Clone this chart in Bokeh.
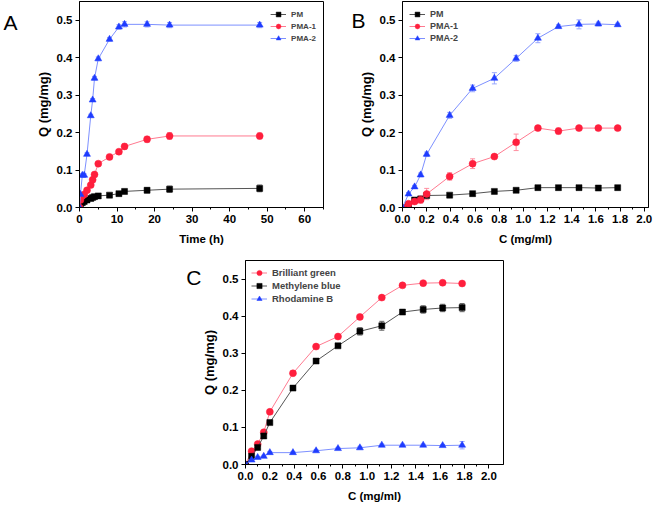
from bokeh.plotting import figure
from bokeh.models import (Range1d, FixedTicker, Legend, LegendItem, LinearAxis, Whisker,
                          ColumnDataSource, TeeHead, Spacer)
from bokeh.layouts import column, row
from bokeh.embed import file_html
from bokeh.resources import INLINE

# ---------------- data ----------------
# Panel A: adsorption vs time
time_h = [0, 0.25, 0.75, 1.25, 2, 3, 3.5, 4, 5, 8, 10.5, 12, 18, 24, 48]
A_pm = [0, 0.008, 0.013, 0.016, 0.020, 0.024, 0.027, 0.029, 0.031, 0.033, 0.037, 0.043, 0.046, 0.049, 0.051]
A_pm_err = [0, 0.002, 0.002, 0.002, 0.002, 0.002, 0.002, 0.002, 0.003, 0.004, 0.005, 0.006, 0.007, 0.008, 0.009]
A_pma1 = [0, 0.020, 0.031, 0.035, 0.046, 0.060, 0.074, 0.088, 0.117, 0.135, 0.149, 0.163, 0.182, 0.191, 0.191]
A_pma1_err = [0, 0.002, 0.002, 0.002, 0.002, 0.003, 0.003, 0.003, 0.004, 0.005, 0.006, 0.007, 0.008, 0.009, 0.008]
A_pma2 = [0, 0.035, 0.086, 0.086, 0.142, 0.245, 0.287, 0.345, 0.397, 0.449, 0.482, 0.489, 0.489, 0.487, 0.487]
A_pma2_err = [0, 0.003, 0.004, 0.004, 0.004, 0.004, 0.004, 0.005, 0.005, 0.005, 0.006, 0.007, 0.007, 0.007, 0.007]

# Panel B: adsorption vs concentration
conc = [0, 0.05, 0.1, 0.15, 0.2, 0.39, 0.58, 0.76, 0.94, 1.12, 1.29, 1.46, 1.62, 1.78]
B_pm = [0, 0.008, 0.020, 0.023, 0.032, 0.033, 0.037, 0.043, 0.046, 0.053, 0.053, 0.053, 0.052, 0.053]
B_pm_err = [0, 0.002, 0.003, 0.003, 0.003, 0.003, 0.003, 0.003, 0.003, 0.003, 0.003, 0.003, 0.003, 0.003]
B_pma1 = [0, 0.010, 0.016, 0.021, 0.036, 0.083, 0.117, 0.136, 0.174, 0.212, 0.204, 0.212, 0.212, 0.212]
B_pma1_err = [0, 0.003, 0.005, 0.010, 0.015, 0.010, 0.013, 0.005, 0.022, 0.005, 0.008, 0.004, 0.003, 0.004]
B_pma2 = [0, 0.036, 0.055, 0.087, 0.142, 0.246, 0.318, 0.345, 0.398, 0.452, 0.483, 0.489, 0.490, 0.488]
B_pma2_err = [0, 0.004, 0.004, 0.005, 0.006, 0.008, 0.009, 0.015, 0.008, 0.012, 0.005, 0.012, 0.005, 0.004]

# Panel C: different dyes
C_bg = [0, 0.036, 0.055, 0.087, 0.142, 0.246, 0.318, 0.345, 0.398, 0.450, 0.483, 0.489, 0.490, 0.488]
C_bg_err = [0, 0.003, 0.003, 0.003, 0.003, 0.003, 0.003, 0.003, 0.003, 0.003, 0.003, 0.003, 0.003, 0.003]
C_mb = [0, 0.022, 0.046, 0.077, 0.113, 0.206, 0.279, 0.320, 0.359, 0.374, 0.411, 0.418, 0.422, 0.423]
C_mb_err = [0, 0.003, 0.003, 0.004, 0.004, 0.004, 0.004, 0.005, 0.010, 0.012, 0.005, 0.010, 0.010, 0.011]
C_rb = [0, 0.012, 0.019, 0.022, 0.032, 0.032, 0.037, 0.043, 0.045, 0.052, 0.052, 0.052, 0.051, 0.052]
C_rb_err = [0, 0.003, 0.003, 0.003, 0.003, 0.003, 0.003, 0.003, 0.004, 0.003, 0.003, 0.003, 0.003, 0.010]

y_ticks = [0.0, 0.1, 0.2, 0.3, 0.4, 0.5]
A_x_ticks = [0, 10, 20, 30, 40, 50, 60]
BC_x_ticks = [0.0, 0.2, 0.4, 0.6, 0.8, 1.0, 1.2, 1.4, 1.6, 1.8, 2.0]
panel_letters = ["A", "B", "C"]

FONT = "Liberation Sans"
BLACK = ("#000000", "#555555", "#666666")
RED = ("#ff1f3d", "#ff7a90", "#ff8fa0")
BLUE = ("#1f3cff", "#7d90ff", "#9aa8ff")


def make_panel(width, height, borders, x_end, x_ticks, x_minor, x_fmt, x_title):
    bl, br, bt, bb = borders
    p = figure(width=width, height=height, output_backend="svg", toolbar_location=None,
               x_range=Range1d(0, x_end), y_range=Range1d(0, 0.55),
               min_border_left=bl, min_border_right=br, min_border_top=bt, min_border_bottom=bb)
    p.grid.visible = False
    p.outline_line_color = "#000000"
    p.outline_line_width = 1
    p.background_fill_color = "white"
    p.border_fill_color = "white"
    p.xaxis.ticker = FixedTicker(ticks=x_ticks, minor_ticks=x_minor)
    p.yaxis.ticker = FixedTicker(ticks=y_ticks, minor_ticks=[])
    p.xaxis.major_label_overrides = {t: x_fmt(t) for t in x_ticks}
    p.yaxis.major_label_overrides = {t: "%.1f" % t for t in y_ticks}
    for ax in (p.xaxis[0], p.yaxis[0]):
        ax.axis_line_color = "#000000"
        ax.major_tick_line_color = "#000000"
        ax.minor_tick_line_color = "#000000"
        ax.major_tick_in = 0
        ax.major_tick_out = 4
        ax.minor_tick_in = 0
        ax.minor_tick_out = 2
        ax.major_label_text_font = FONT
        ax.major_label_text_font_style = "bold"
        ax.major_label_text_font_size = "11.5px"
        ax.major_label_text_color = "#000000"
        ax.axis_label_text_font = FONT
        ax.axis_label_text_font_style = "bold"
        ax.axis_label_text_color = "#000000"
        ax.major_label_standoff = 3
    p.xaxis.axis_label_text_font_size = "11.5px"
    p.yaxis.axis_label_text_font_size = "13px"
    p.xaxis.axis_label = x_title
    p.yaxis.axis_label = "Q (mg/mg)"
    p.xaxis.axis_label_standoff = 7
    p.yaxis.axis_label_standoff = 3
    return p


def add_letter(p, text, y_pos, standoff):
    # panel letter drawn as the single tick label of an extra, invisible left axis
    ax = LinearAxis(ticker=FixedTicker(ticks=[y_pos], minor_ticks=[]),
                    major_label_overrides={y_pos: text},
                    axis_line_color=None, major_tick_line_color=None, minor_tick_line_color=None,
                    major_tick_in=0, major_tick_out=0, minor_tick_in=0, minor_tick_out=0,
                    major_label_standoff=standoff, major_label_text_font=FONT,
                    major_label_text_font_size="21px", major_label_text_font_style="normal",
                    major_label_text_color="#000000")
    p.add_layout(ax, "left")


def add_series(p, xs, ys, errs, colors, marker, size):
    mc, lc, ec = colors
    src = ColumnDataSource(dict(x=xs, y=ys,
                                up=[a + b for a, b in zip(ys, errs)],
                                lo=[a - b for a, b in zip(ys, errs)]))
    w = Whisker(source=src, base="x", upper="up", lower="lo", line_color=ec, line_width=1,
                upper_head=TeeHead(size=5, line_color=ec, line_width=1),
                lower_head=TeeHead(size=5, line_color=ec, line_width=1))
    p.add_layout(w)
    ln = p.line("x", "y", source=src, line_color=lc, line_width=1)
    sc = p.scatter("x", "y", source=src, marker=marker, size=size,
                   fill_color=mc, line_color=mc, line_width=0.5)
    return [ln, sc]


def add_legend(p, items, loc, font_size, glyph_h, margin):
    leg = Legend(items=[LegendItem(label=lab, renderers=r) for lab, r in items],
                 location=loc, border_line_color=None, background_fill_alpha=0,
                 label_text_font=FONT, label_text_font_style="bold",
                 label_text_font_size=font_size, glyph_width=16, glyph_height=glyph_h,
                 label_height=glyph_h, spacing=0, padding=0, margin=margin, label_standoff=5)
    p.add_layout(leg)


# ---- Panel A ----
pA = make_panel(327, 255, (78, 4, 1, 48), 65, A_x_ticks, [5, 15, 25, 35, 45, 55, 65],
                lambda t: "%d" % t, "Time (h)")
rA_pm = add_series(pA, time_h, A_pm, A_pm_err, BLACK, "square", 6)
rA_1 = add_series(pA, time_h, A_pma1, A_pma1_err, RED, "circle", 7)
rA_2 = add_series(pA, time_h, A_pma2, A_pma2_err, BLUE, "triangle", 7)
add_legend(pA, [("PM", rA_pm), ("PMA-1", rA_1), ("PMA-2", rA_2)], "top_right", "8px", 12, 7)
add_letter(pA, panel_letters[0], 0.495, 15)

# ---- Panel B ----
pB = make_panel(326, 255, (75, 5, 1, 48), 2.035, BC_x_ticks, [0.1, 0.3, 0.5, 0.7, 0.9, 1.1, 1.3, 1.5, 1.7, 1.9],
                lambda t: "%.1f" % t, "C (mg/ml)")
rB_pm = add_series(pB, conc, B_pm, B_pm_err, BLACK, "square", 6)
rB_1 = add_series(pB, conc, B_pma1, B_pma1_err, RED, "circle", 7)
rB_2 = add_series(pB, conc, B_pma2, B_pma2_err, BLUE, "triangle", 7)
add_legend(pB, [("PM", rB_pm), ("PMA-1", rB_1), ("PMA-2", rB_2)], "top_left", "9px", 12, 7)
add_letter(pB, panel_letters[1], 0.499, -10)

# ---- Panel C ----
pC = make_panel(338, 249, (65, 15, 5, 38), 2.12, BC_x_ticks, [0.1, 0.3, 0.5, 0.7, 0.9, 1.1, 1.3, 1.5, 1.7, 1.9],
                lambda t: "%.1f" % t, "C (mg/ml)")
rC_bg = add_series(pC, conc, C_bg, C_bg_err, RED, "circle", 7)
rC_mb = add_series(pC, conc, C_mb, C_mb_err, BLACK, "square", 6)
rC_rb = add_series(pC, conc, C_rb, C_rb_err, BLUE, "triangle", 7)
add_legend(pC, [("Brilliant green", rC_bg), ("Methylene blue", rC_mb), ("Rhodamine B", rC_rb)],
           "top_left", "9.5px", 13, 6)
add_letter(pC, panel_letters[2], 0.503, -3)

layout = column(row(pA, pB, spacing=0), row(Spacer(width=180, height=249), pC, spacing=0), spacing=0)

open("out.html", "w").write(file_html(layout, INLINE))
